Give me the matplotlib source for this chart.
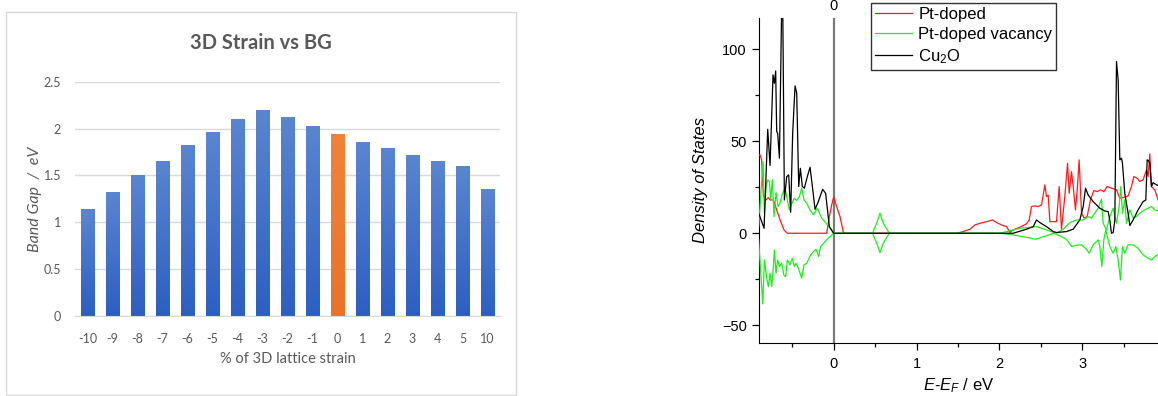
import numpy as np
import matplotlib
matplotlib.use("Agg")
import matplotlib.pyplot as plt
from matplotlib.patches import Rectangle
from matplotlib.ticker import MultipleLocator
from matplotlib.colors import to_rgb
from matplotlib.transforms import blended_transform_factory

plt.rcParams['mathtext.fontset'] = 'custom'
plt.rcParams['mathtext.rm'] = 'Liberation Sans'
plt.rcParams['mathtext.it'] = 'Liberation Sans:italic'

# band gap vs 3D strain
strain = ['-10', '-9', '-8', '-7', '-6', '-5', '-4', '-3', '-2', '-1',
          '0', '1', '2', '3', '4', '5', '10']
band_gap = [1.14, 1.32, 1.50, 1.65, 1.82, 1.96, 2.10, 2.20, 2.12, 2.03,
            1.94, 1.86, 1.79, 1.72, 1.65, 1.60, 1.35]

# density of states
pt_e = [-0.905, -0.889, -0.869, -0.848, -0.816, -0.788, -0.768, -0.728, -0.688,
        -0.647, -0.599, -0.559, -0.084, -0.052, -0.024, 0.0, 0.036, 0.076,
        0.117, 0.137, 1.484, 1.564, 1.645, 1.705, 1.765, 1.846, 1.918, 1.966,
        2.027, 2.087, 2.127, 2.167, 2.248, 2.328, 2.360, 2.388, 2.429, 2.469,
        2.509, 2.549, 2.569, 2.589, 2.610, 2.690, 2.722, 2.750, 2.790, 2.823,
        2.843, 2.871, 2.891, 2.919, 2.943, 2.963, 2.992, 3.024, 3.060, 3.100,
        3.140, 3.181, 3.221, 3.261, 3.301, 3.353, 3.414, 3.454, 3.514, 3.554,
        3.595, 3.623, 3.663, 3.695, 3.735, 3.776, 3.796, 3.816, 3.836, 3.876,
        3.904, 3.94]
pt_dos = [42.6, 42.6, 39.9, 19.9, 18.1, 19.4, 18.1, 18.1, 12.7,
          7.2, 1.8, 0.0, 0.0, 9.1, 15.4, 19.6, 14.5, 9.1,
          0.5, 0.0, 0.0, 0.9, 2.2, 4.5, 5.4, 6.3, 7.2, 5.8,
          4.5, 3.6, 0.5, 1.8, 3.3, 5.1, 7.2, 14.5, 14.9, 14.5,
          15.4, 26.3, 19.9, 20.8, 6.3, 6.3, 25.4, 2.2, 19.9, 38.0,
          21.7, 33.5, 25.4, 12.7, 25.4, 39.9, 10.9, 8.2, 9.1, 18.1,
          23.2, 22.6, 23.6, 22.6, 25.4, 24.5, 23.6, 19.0, 19.6, 20.3,
          25.4, 30.8, 29.9, 28.1, 29.0, 34.4, 30.8, 43.1, 25.4, 23.6,
          19.9, 14.5]

vac_up_e = [-0.905, -0.873, -0.852, -0.836, -0.816, -0.796, -0.776, -0.760,
            -0.740, -0.720, -0.696, -0.671, -0.647, -0.623, -0.587, -0.559,
            -0.535, -0.503, -0.478, -0.446, -0.414, -0.386, -0.358, -0.326,
            -0.285, -0.245, -0.197, -0.145, -0.084, 0.0, 0.470, 0.519, 0.559,
            0.599, 0.671, 2.006, 2.087, 2.248, 2.449, 2.569, 2.690, 2.770,
            2.851, 2.931, 3.012, 3.072, 3.112, 3.152, 3.193, 3.233, 3.253,
            3.293, 3.333, 3.374, 3.414, 3.446, 3.466, 3.486, 3.514, 3.535,
            3.575, 3.615, 3.655, 3.695, 3.755, 3.796, 3.836, 3.876, 3.94]
vac_up = [3.6, 25.4, 39.0, 10.9, 25.4, 29.0, 28.1, 18.1,
          29.0, 9.1, 22.1, 14.5, 16.3, 20.8, 24.5, 18.1,
          12.7, 16.3, 19.0, 17.8, 19.9, 24.5, 18.1, 16.3,
          12.7, 10.0, 13.6, 8.2, 5.1, 0.0, 0.0, 5.4, 10.9,
          5.4, 0.0, 0.0, 0.9, 2.7, 3.6, 1.8, 0.0, 2.2,
          5.8, 7.2, 7.2, 9.1, 8.2, 10.9, 13.6, 18.5, 5.4,
          1.8, 9.1, 13.6, 5.4, 14.5, 25.4, 10.9, 18.1, 5.4,
          12.7, 8.2, 9.1, 10.9, 12.7, 13.6, 14.5, 12.7, 11.8]

vac_dn_e = [-0.905, -0.885, -0.856, -0.836, -0.808, -0.788, -0.768, -0.748,
            -0.728, -0.716, -0.696, -0.676, -0.655, -0.627, -0.603, -0.579,
            -0.559, -0.527, -0.499, -0.474, -0.454, -0.426, -0.386, -0.358,
            -0.326, -0.277, -0.245, -0.213, -0.181, -0.157, -0.084, 0.0,
            0.470, 0.519, 0.559, 0.599, 0.671, 2.006, 2.167, 2.328, 2.441,
            2.509, 2.569, 2.650, 2.730, 2.811, 2.871, 2.931, 2.992, 3.052,
            3.084, 3.132, 3.193, 3.213, 3.237, 3.261, 3.285, 3.333, 3.374,
            3.406, 3.434, 3.462, 3.486, 3.514, 3.554, 3.615, 3.675, 3.735,
            3.796, 3.836, 3.876, 3.94]
vac_dn = [-3.6, -18.1, -38.4, -14.5, -24.5, -29.0, -21.7, -29.0,
          -18.1, -9.1, -21.7, -14.5, -18.1, -16.3, -22.6, -23.6,
          -14.5, -17.2, -13.6, -18.1, -16.3, -19.0, -24.5, -17.2,
          -16.3, -11.8, -10.0, -8.7, -12.7, -7.2, -3.6, 0.0,
          0.0, -5.4, -10.5, -5.4, 0.0, 0.0, -0.9, -2.2, -3.3,
          -2.2, -1.4, 0.0, -1.4, -3.3, -7.2, -6.5, -6.3, -8.7,
          -10.9, -6.3, -3.6, -7.2, -18.1, -3.6, 1.8, -7.2, -10.9,
          -7.2, -14.5, -25.4, -7.2, -10.9, -6.3, -6.3, -8.2, -11.8,
          -13.6, -14.5, -12.7, -10.9]

cu2o_e = [-0.905, -0.840, -0.796, -0.768, -0.732, -0.716, -0.700, -0.688,
          -0.676, -0.655, -0.627, -0.615, -0.595, -0.567, -0.543, -0.519,
          -0.495, -0.466, -0.446, -0.422, -0.402, -0.378, -0.354, -0.318,
          -0.285, -0.257, -0.225, -0.185, -0.133, -0.097, -0.052, 0.0,
          2.167, 2.328, 2.409, 2.449, 2.489, 2.569, 2.650, 2.690, 2.811,
          2.891, 2.971, 3.012, 3.040, 3.072, 3.132, 3.213, 3.273, 3.313,
          3.333, 3.353, 3.374, 3.394, 3.414, 3.434, 3.454, 3.474, 3.486,
          3.514, 3.554, 3.575, 3.615, 3.675, 3.735, 3.768, 3.784, 3.800,
          3.816, 3.836, 3.856, 3.896, 3.94]
cu2o_dos = [10.9, 2.7, 56.5, 36.8, 86.1, 81.5, 88.2, 55.3,
            54.3, 40.8, 125.0, 125.0, 18.1, 30.8, 31.7, 11.4,
            54.3, 80.1, 76.1, 25.4, 35.3, 25.4, 24.5, 30.8,
            35.9, 25.4, 13.0, 17.2, 23.9, 21.7, 3.6, 0.0,
            0.0, 2.2, 3.6, 7.2, 5.8, 3.6, 0.9, 0.4, 0.9,
            2.2, 7.2, 14.5, 24.5, 20.8, 17.2, 13.6, 12.1, 11.8,
            7.2, 0.0, 0.4, 7.2, 93.3, 83.3, 39.9, 40.8, 38.0,
            21.7, 10.9, 4.2, 7.2, 12.7, 17.2, 18.1, 39.9, 39.5,
            38.0, 25.4, 27.5, 26.3, 25.4]

W, H = 1158, 396
fig = plt.figure(figsize=(W / 100, H / 100), dpi=100)

# ---- left: bar chart ----
txt = '#595959'
lfont = 'Lato'
fig.patches.append(Rectangle((6 / W, 1 - 395 / H), 510 / W, 383 / H,
                             transform=fig.transFigure, fill=False,
                             ec='#d9d9d9', lw=1.0))
ax1 = fig.add_axes([75 / W, 1 - 316 / H, 425 / W, 234.3 / H])
x = np.arange(len(strain))
colors_top = ['#5a85d0'] * len(strain)
colors_bot = ['#2c5fc2'] * len(strain)
colors_top[10] = '#f08339'
colors_bot[10] = '#ea7328'
bars = ax1.bar(x, band_gap, width=0.53, color='none', zorder=2)
grad = np.linspace(0, 1, 128).reshape(-1, 1)
for b, ct, cb in zip(bars, colors_top, colors_bot):
    c0 = np.array(to_rgb(cb))
    c1 = np.array(to_rgb(ct))
    img = c0[None, None, :] * (1 - grad[:, :, None]) + c1[None, None, :] * grad[:, :, None]
    x0 = b.get_x()
    im = ax1.imshow(img, extent=[x0, x0 + b.get_width(), 0, b.get_height()],
                    origin='lower', aspect='auto', zorder=2)
    im.set_clip_path(b)
ax1.set_xlim(-0.5, len(strain) - 0.5)
ax1.set_ylim(0, 2.5)
ax1.set_yticks([0, 0.5, 1, 1.5, 2, 2.5])
ax1.set_yticklabels(['0', '0.5', '1', '1.5', '2', '2.5'])
ax1.set_xticks(x)
ax1.set_xticklabels(strain)
ax1.yaxis.grid(True, color='#d9d9d9', lw=1.0, zorder=0)
ax1.set_axisbelow(True)
for s in ['top', 'right', 'left']:
    ax1.spines[s].set_visible(False)
ax1.spines['bottom'].set_color('#d9d9d9')
ax1.tick_params(length=0, colors=txt, labelsize=9)
ax1.tick_params(axis='x', pad=12)
ax1.tick_params(axis='y', pad=10)
for lab in ax1.get_xticklabels() + ax1.get_yticklabels():
    lab.set_fontfamily(lfont)
ax1.set_xlabel('% of 3D lattice strain', color=txt, fontsize=10.5,
               family=lfont, labelpad=5)
ax1.set_ylabel('Band Gap  /  eV', color=txt, fontsize=11.5, family=lfont,
               style='italic', labelpad=1)
fig.text(261 / W, 1 - 43 / H, '3D Strain vs BG', ha='center', va='center',
         color=txt, fontsize=14.5, fontweight='bold', family=lfont)

# ---- right: density of states ----
rfont = 'Liberation Sans'
ax2 = fig.add_axes([758.7 / W, 1 - 342.7 / H, (W - 758.7) / W, 324.7 / H])
ax2.axvline(0, color='#7a7a7a', lw=1.6, zorder=1)
ax2.plot(pt_e, pt_dos, color='#ff1a1a', lw=0.9, label='Pt-doped', zorder=3)
ax2.plot(vac_up_e, vac_up, color='#19ef19', lw=0.9, label='Pt-doped vacancy', zorder=3)
ax2.plot(vac_dn_e, vac_dn, color='#19ef19', lw=0.9, zorder=3)
ax2.plot(cu2o_e, cu2o_dos, color='black', lw=0.9, label='Cu$_2$O', zorder=4)
ax2.set_xlim(-0.905, 3.915)
ax2.set_ylim(-59.5, 117)
ax2.xaxis.set_major_locator(MultipleLocator(1))
ax2.xaxis.set_minor_locator(MultipleLocator(0.5))
ax2.yaxis.set_major_locator(MultipleLocator(50))
ax2.yaxis.set_minor_locator(MultipleLocator(25))
ax2.spines['top'].set_visible(False)
ax2.spines['right'].set_visible(False)
ax2.tick_params(which='major', direction='out', length=5, width=0.9, labelsize=10.5)
ax2.tick_params(which='minor', direction='out', length=3, width=0.9)
ax2.tick_params(axis='x', pad=5)
for lab in ax2.get_xticklabels() + ax2.get_yticklabels():
    lab.set_fontfamily(rfont)
ax2.set_xlabel('$E$-$E_F$ / eV', fontsize=12, family=rfont, labelpad=4)
ax2.set_ylabel('Density of States', fontsize=12, family=rfont,
               style='italic', labelpad=10)
# label of the Fermi-level line at the very top edge
ax2.text(0, 1 - 10 / H, '0',
         transform=blended_transform_factory(ax2.transData, fig.transFigure),
         ha='center', va='baseline', fontsize=10.5, family=rfont, clip_on=False)
leg = ax2.legend(loc='upper left', bbox_to_anchor=(870.7 / W, 1 - 2.7 / H),
                 bbox_transform=fig.transFigure, frameon=True, fancybox=False,
                 edgecolor='black', handlelength=2.2,
                 handletextpad=0.4, borderpad=0.25, labelspacing=0.3,
                 borderaxespad=0, prop={'family': rfont, 'size': 12})
leg.get_frame().set_linewidth(1.0)

fig.savefig('out.png', dpi=100)
